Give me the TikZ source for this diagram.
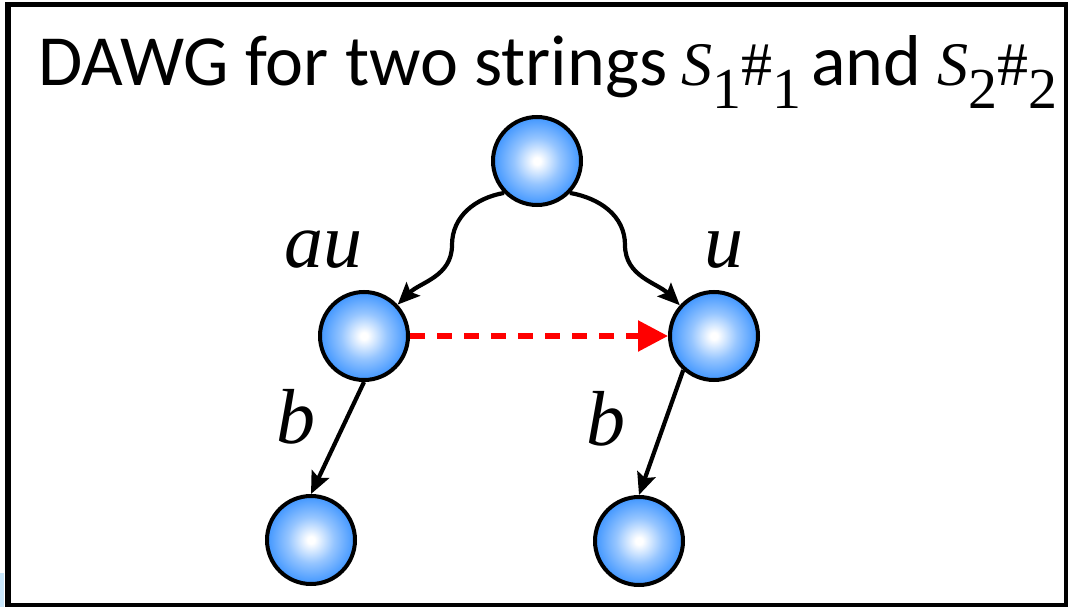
\documentclass[tikz,border=0pt]{standalone}
\usepackage{fontspec}
\usetikzlibrary{arrows.meta,calc}
\newfontfamily\titlefont{Carlito}
\newfontfamily\tmsfont{Liberation Serif}
\definecolor{ballblue}{RGB}{64,150,255}
\definecolor{stripblue}{RGB}{200,230,250}
\pgfdeclareradialshading{ballshade}{\pgfpoint{0bp}{0bp}}{%
  color(0bp)=(white); color(2bp)=(white); color(13bp)=(ballblue!55!white); color(25bp)=(ballblue); color(50bp)=(ballblue)}
\newcommand\mathsub[2]{#1\raisebox{-23pt}{\fontsize{58}{58}\selectfont #2}}
\tikzset{
  ball/.style={circle, draw=black, line width=4pt, minimum size=88pt, inner sep=0pt,
    shading=ballshade},
  edge/.style={line width=4.2pt, -{Stealth[length=22pt,width=19pt,inset=4pt]}},
  link/.style={draw=red, line width=5.5pt, dash pattern=on 15pt off 12pt,
    -{Triangle[length=30pt,width=30pt]}},
  lbl/.style={anchor=base west, inner sep=0pt, font=\tmsfont\itshape\fontsize{78}{80}\selectfont},
}
\begin{document}
\begin{tikzpicture}[x=1pt,y=1pt]
\useasboundingbox (0,0) rectangle (1068,-607);
\fill[stripblue] (0,-573) rectangle (4,-607);
\draw[line width=5.5pt] (8,-4.5) rectangle (1066.5,-605.5);
\node[anchor=base west, inner sep=0pt] (title) at (38,-86)
  {\titlefont\fontsize{72}{76}\selectfont DAWG for two strings\hspace{14pt}%
   {\tmsfont\fontsize{62}{70}\selectfont\mathsub{\textit{S}}{1}\mathsub{\#}{1}}%
   \hspace{10pt}and\hspace{16pt}%
   {\tmsfont\fontsize{62}{70}\selectfont\mathsub{\textit{S}}{2}\mathsub{\#}{2}}};
\node[ball] (top) at (537,-161) {};
\node[ball] (mL) at (364,-336) {};
\node[ball] (mR) at (714,-336) {};
\node[ball] (bL) at (311,-540) {};
\node[ball] (bR) at (639,-541) {};
\coordinate (cL) at (452,-245);
\coordinate (cR) at (625,-245);
\node[lbl] (lau) at (284,-267) {au};
\node[lbl] (lu) at (704,-267) {u};
\node[lbl] (lb1) at (276,-443) {b};
\node[lbl] (lb2) at (586,-445) {b};
\draw[edge] (top.224) to[out=190,in=90] (cL) to[out=-90,in=45] (mL.43);
\draw[edge] (top.316) to[out=-10,in=90] (cR) to[out=-90,in=135] (mR.138);
\draw[link] (mL.east) -- (mR.west);
\draw[edge] (mL.south) -- (bL.north);
\draw[edge] (mR.228) -- (bR.north);
\end{tikzpicture}
\end{document}
